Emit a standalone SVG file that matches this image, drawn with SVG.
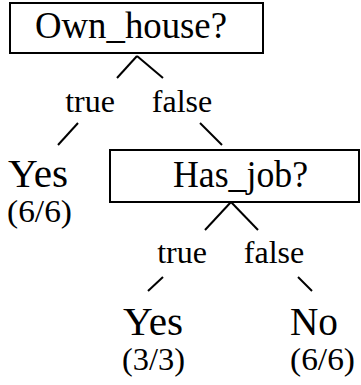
<svg xmlns="http://www.w3.org/2000/svg" width="361" height="385" viewBox="0 0 361 385">
<style>
.box{fill:#fff;stroke:#000;stroke-width:2}
.ln{stroke:#000;stroke-width:2;fill:none}
text{fill:#000;text-anchor:middle}
.big{font-size:37px}
.leaf{font-size:39px}
.lbl{font-size:32px}
.cnt{font-size:32px}
</style>
<rect width="361" height="385" fill="#fff"/>
<g font-family="Liberation Serif, Times New Roman, DejaVu Serif, serif">
<g id="connectors">
<line class="ln" x1="137" y1="56" x2="117" y2="78"/>
<line class="ln" x1="137" y1="56" x2="163" y2="78"/>
<text class="lbl" x="90" y="112">true</text>
<text class="lbl" x="182" y="112">false</text>
<line class="ln" x1="78" y1="123" x2="58" y2="145"/>
<line class="ln" x1="200" y1="123" x2="222" y2="145"/>
<line class="ln" x1="231" y1="202" x2="205" y2="230"/>
<line class="ln" x1="231" y1="202" x2="258" y2="230"/>
<text class="lbl" x="182" y="263">true</text>
<text class="lbl" x="274" y="263">false</text>
<line class="ln" x1="163" y1="277" x2="148" y2="291"/>
<line class="ln" x1="298" y1="277" x2="312" y2="291"/>
</g>
<g id="own_house">
<rect class="box" x="10" y="3" width="253" height="50"/>
<text class="big" x="131" y="38" textLength="192" lengthAdjust="spacingAndGlyphs">Own_house?</text>
</g>
<g id="yes1">
<text class="leaf" x="38" y="187" textLength="60" lengthAdjust="spacingAndGlyphs">Yes</text>
<text class="cnt" x="39.5" y="222" textLength="65" lengthAdjust="spacingAndGlyphs">(6/6)</text>
</g>
<g id="has_job">
<rect class="box" x="110" y="150" width="249" height="52"/>
<text class="big" x="240.5" y="187" textLength="135" lengthAdjust="spacingAndGlyphs">Has_job?</text>
</g>
<g id="yes2">
<text class="leaf" x="153" y="335" textLength="60" lengthAdjust="spacingAndGlyphs">Yes</text>
<text class="cnt" x="153.5" y="370" textLength="63" lengthAdjust="spacingAndGlyphs">(3/3)</text>
</g>
<g id="no">
<text class="leaf" x="314" y="335" textLength="48" lengthAdjust="spacingAndGlyphs">No</text>
<text class="cnt" x="322.5" y="370" textLength="65" lengthAdjust="spacingAndGlyphs">(6/6)</text>
</g>
</g>
</svg>
